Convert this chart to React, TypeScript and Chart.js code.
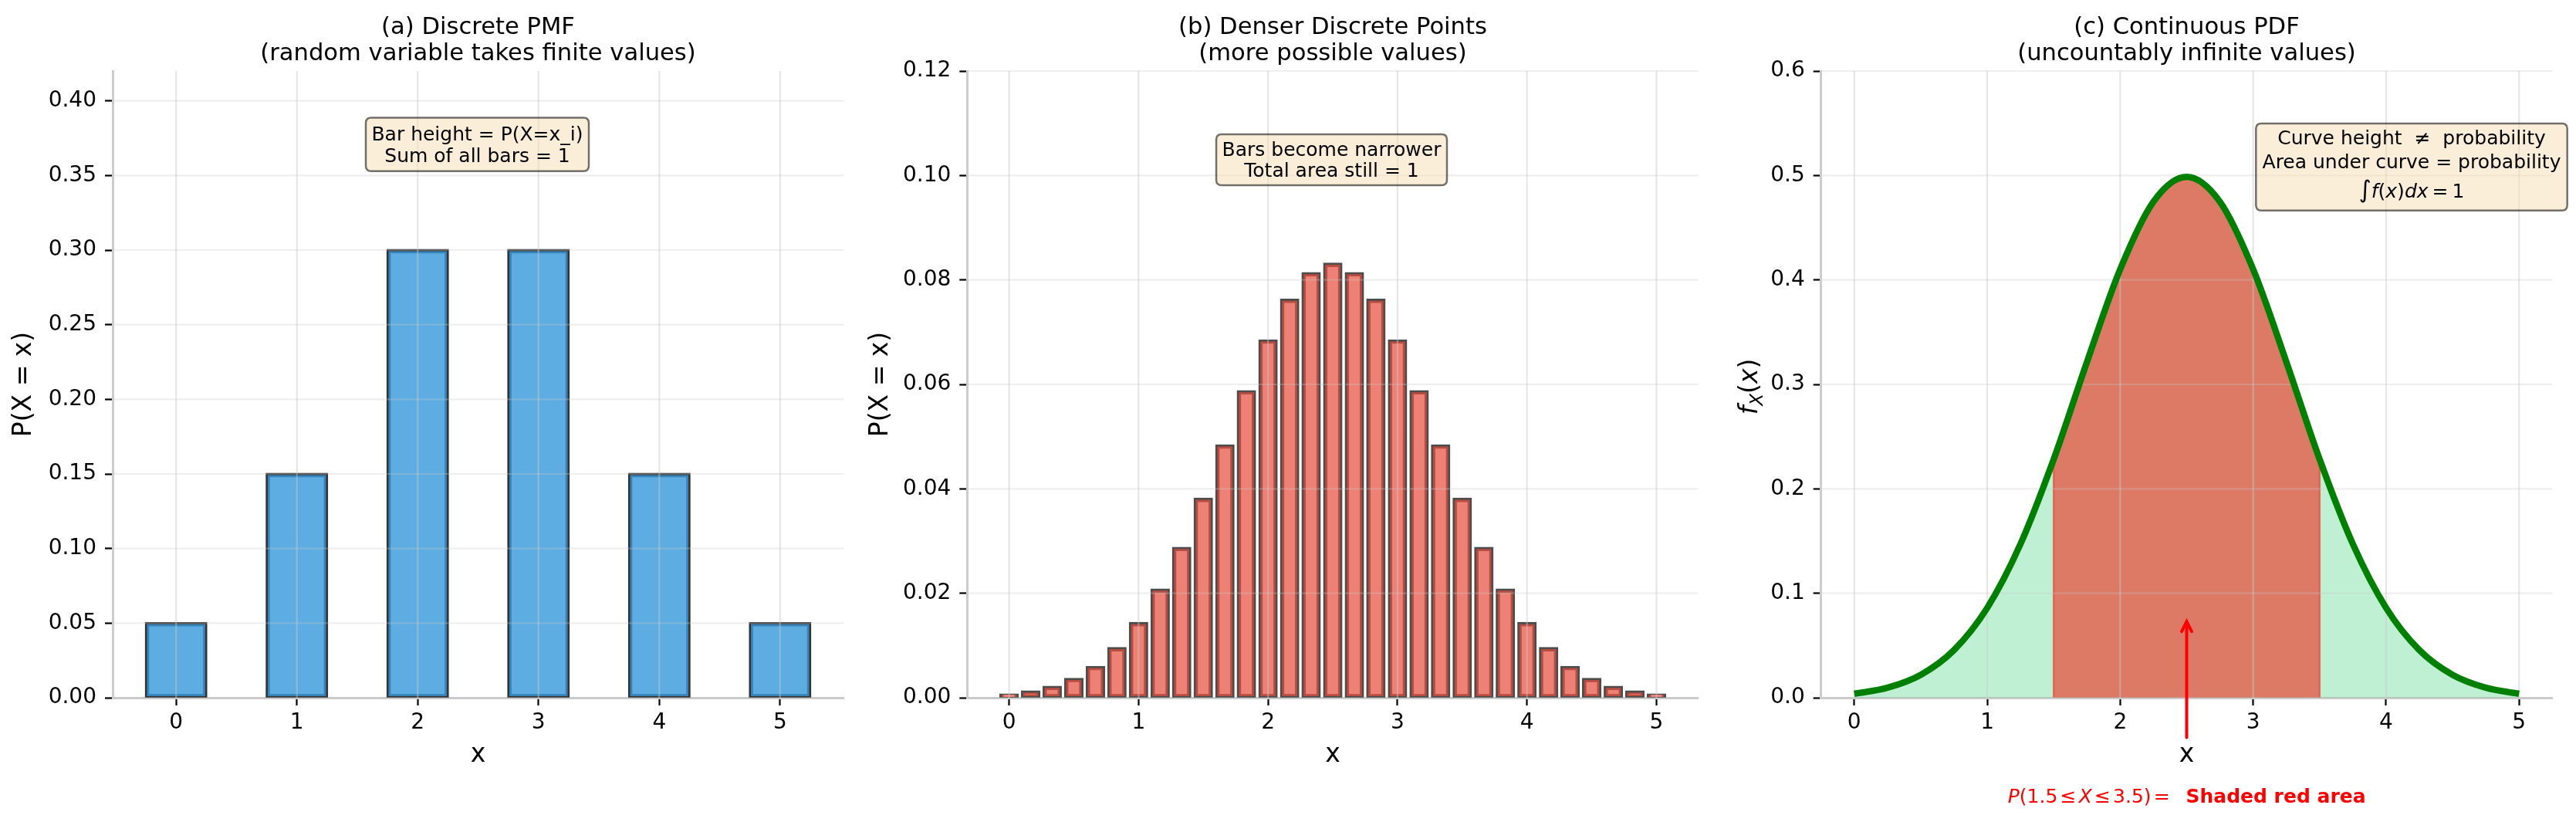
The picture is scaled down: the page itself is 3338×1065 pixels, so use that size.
import React, { useEffect, useRef } from "react";
import { Chart, registerables } from "chart.js";

Chart.register(...registerables);

const FAMILY = "'DejaVu Sans', 'Liberation Sans', sans-serif";

// ---------- Panel (a): discrete PMF ----------
const pmfX = [0, 1, 2, 3, 4, 5];
const pmfP = [0.05, 0.15, 0.3, 0.3, 0.15, 0.05];

// ---------- Panel (b): denser discrete points ----------
const denseX = [
  0, 0.167, 0.333, 0.5, 0.667, 0.833, 1, 1.167, 1.333, 1.5, 1.667, 1.833, 2, 2.167, 2.333, 2.5,
  2.667, 2.833, 3, 3.167, 3.333, 3.5, 3.667, 3.833, 4, 4.167, 4.333, 4.5, 4.667, 4.833, 5,
];
const denseP = [
  0.0006, 0.0012, 0.0021, 0.0036, 0.0059, 0.0095, 0.0143, 0.0207, 0.0287, 0.0381, 0.0483, 0.0587,
  0.0684, 0.0762, 0.0813, 0.0831, 0.0813, 0.0762, 0.0684, 0.0587, 0.0483, 0.0381, 0.0287, 0.0207,
  0.0143, 0.0095, 0.0059, 0.0036, 0.0021, 0.0012, 0.0006,
];

// ---------- Panel (c): continuous PDF ----------
const pdfX = [
  0, 0.25, 0.5, 0.75, 1, 1.25, 1.5, 1.75, 2, 2.25, 2.5, 2.75, 3, 3.25, 3.5, 3.75, 4, 4.25, 4.5, 4.75, 5,
];
const pdfY = [
  0.0038, 0.0096, 0.0219, 0.0456, 0.086, 0.1471, 0.2283, 0.3214, 0.4102, 0.4749, 0.4987, 0.4749,
  0.4102, 0.3214, 0.2283, 0.1471, 0.086, 0.0456, 0.0219, 0.0096, 0.0038,
];
const shadeRange = [1.5, 3.5];
const arrowX = 2.5;
const arrowYRange = [-0.038, 0.073];

// ---------- Text ----------
const titleA = ["(a) Discrete PMF", "(random variable takes finite values)"];
const titleB = ["(b) Denser Discrete Points", "(more possible values)"];
const titleC = ["(c) Continuous PDF", "(uncountably infinite values)"];
const boxA = ["Bar height = P(X=x_i)", "Sum of all bars = 1"];
const boxB = ["Bars become narrower", "Total area still = 1"];
const boxC = ["Curve height  \u2260  probability", "Area under curve = probability"];

type Seg = { t: string; italic?: boolean; bold?: boolean; size?: number; dy?: number; gap?: number };

function fontOf(s: Seg, base: number) {
  return `${s.italic ? "italic" : "normal"} ${s.bold ? "bold" : "normal"} ${s.size || base}px ${FAMILY}`;
}

function drawSegs(ctx: CanvasRenderingContext2D, segs: Seg[], x: number, y: number, base: number, align: "left" | "center") {
  ctx.textAlign = "left";
  ctx.textBaseline = "alphabetic";
  let total = 0;
  const widths = segs.map((s) => {
    ctx.font = fontOf(s, base);
    const w = ctx.measureText(s.t).width + (s.gap || 0);
    total += w;
    return w;
  });
  let cx = align === "left" ? x : x - total / 2;
  segs.forEach((s, i) => {
    ctx.font = fontOf(s, base);
    if (s.t) ctx.fillText(s.t, cx, y + (s.dy || 0));
    cx += widths[i];
  });
}

function roundRect(ctx: CanvasRenderingContext2D, x1: number, y1: number, x2: number, y2: number, r: number) {
  ctx.beginPath();
  ctx.moveTo(x1 + r, y1);
  ctx.lineTo(x2 - r, y1);
  ctx.quadraticCurveTo(x2, y1, x2, y1 + r);
  ctx.lineTo(x2, y2 - r);
  ctx.quadraticCurveTo(x2, y2, x2 - r, y2);
  ctx.lineTo(x1 + r, y2);
  ctx.quadraticCurveTo(x1, y2, x1, y2 - r);
  ctx.lineTo(x1, y1 + r);
  ctx.quadraticCurveTo(x1, y1, x1 + r, y1);
  ctx.closePath();
}

type BoxSpec = { x1: number; y1: number; x2: number; y2: number; lines: { segs: Seg[]; base: number }[] };

function drawBox(ctx: CanvasRenderingContext2D, b: BoxSpec) {
  ctx.save();
  roundRect(ctx, b.x1, b.y1, b.x2, b.y2, 7);
  ctx.fillStyle = "rgba(245,222,179,0.5)";
  ctx.fill();
  ctx.lineWidth = 2.5;
  ctx.strokeStyle = "rgba(0,0,0,0.55)";
  ctx.stroke();
  ctx.fillStyle = "#000";
  const cx = (b.x1 + b.x2) / 2;
  b.lines.forEach((l) => drawSegs(ctx, l.segs, cx, l.base, 25, "center"));
  ctx.restore();
}

function drawGrid(chart: any, o: any) {
  const { ctx, chartArea: a, scales } = chart;
  const xs = scales.x;
  const ys = scales.y;
  ctx.save();
  ctx.lineWidth = o.width;
  ctx.strokeStyle = o.xColor;
  xs.ticks.forEach((t: any) => {
    const px = xs.getPixelForValue(t.value);
    ctx.beginPath();
    ctx.moveTo(px, a.top);
    ctx.lineTo(px, a.bottom);
    ctx.stroke();
  });
  ctx.strokeStyle = o.yColor;
  ys.ticks.forEach((t: any) => {
    const py = ys.getPixelForValue(t.value);
    ctx.beginPath();
    ctx.moveTo(a.left, py);
    ctx.lineTo(a.right, py);
    ctx.stroke();
  });
  ctx.restore();
}

function drawShadeEdges(chart: any) {
  const { ctx, scales } = chart;
  const xs = scales.x;
  const ys = scales.y;
  ctx.save();
  ctx.strokeStyle = "rgba(231,76,60,0.75)";
  ctx.lineWidth = 2.5;
  shadeRange.forEach((v) => {
    const i = pdfX.indexOf(v);
    const px = xs.getPixelForValue(v);
    ctx.beginPath();
    ctx.moveTo(px, ys.getPixelForValue(0));
    ctx.lineTo(px, ys.getPixelForValue(pdfY[i]));
    ctx.stroke();
  });
  ctx.restore();
}

const gridPlugin = {
  id: "gridOver",
  beforeDatasetDraw(chart: any, args: any, o: any) {
    if (o.beforeIndex !== undefined && o.beforeIndex === args.index) {
      if (o.shadeEdges) drawShadeEdges(chart);
      drawGrid(chart, o);
    }
  },
  afterDatasetsDraw(chart: any, _args: any, o: any) {
    if (o.beforeIndex === undefined) drawGrid(chart, o);
  },
};

const overlayPlugin = {
  id: "overlay",
  afterDraw(chart: any, _args: any, o: any) {
    const { ctx, chartArea: a } = chart;
    ctx.save();
    ctx.fillStyle = "#000";
    const cx = (a.left + a.right) / 2;
    o.title.forEach((t: string, i: number) => drawSegs(ctx, [{ t }], cx, o.titleBase[i], 30.6, "center"));
    drawBox(ctx, o.box);
    if (o.extra) o.extra(chart);
    ctx.restore();
  },
};

const GRID = { xColor: "rgba(200,200,200,0.45)", yColor: "rgba(200,200,200,0.3)", width: 2.2 };
const TITLE_BASE = [43.5, 77.5];
const H = 1065;

function axisBase(area: { l: number; b: number }, opts: any) {
  const tickFont = { family: FAMILY, size: 28 };
  return {
    x: {
      type: "linear",
      min: opts.xmin,
      max: opts.xmax,
      offset: false,
      z: 1,
      ticks: { stepSize: 1, includeBounds: false, font: tickFont, color: "#000", padding: 6, maxRotation: 0, autoSkip: false },
      grid: { drawOnChartArea: false, offset: false, tickLength: 10, tickWidth: 2.2, tickColor: "#000" },
      border: { color: "#cccccc", width: 3 },
      title: { display: true, text: "x", color: "#000", font: { family: FAMILY, size: 33 }, padding: { top: 0, bottom: 67 } },
      afterFit: (s: any) => {
        s.height = H - area.b;
      },
    },
    y: {
      type: "linear",
      min: 0,
      max: opts.ymax,
      z: 1,
      ticks: {
        stepSize: opts.ystep,
        includeBounds: false,
        font: tickFont,
        color: "#000",
        padding: 11,
        autoSkip: false,
        callback: (v: number) => Number(v).toFixed(opts.ydec),
      },
      grid: { drawOnChartArea: false, tickLength: 10, tickWidth: 2.2, tickColor: "#000" },
      border: { color: "#cccccc", width: 3 },
      title: {
        display: !!opts.ytitle,
        text: opts.ytitle || "",
        color: "#000",
        font: { family: FAMILY, size: 33 },
        padding: { top: opts.ytitlePad, bottom: 0 },
      },
      afterFit: (s: any) => {
        s.width = area.l;
      },
    },
  };
}

function baseOptions(W: number, area: { l: number; t: number; r: number; b: number }) {
  return {
    animation: false,
    responsive: false,
    devicePixelRatio: 1,
    layout: { padding: { left: 0, top: area.t, right: W - area.r, bottom: 0 } },
  };
}

function configA(W: number) {
  const area = { l: 146, t: 92, r: 1093, b: 904 };
  return {
    type: "bar",
    data: {
      datasets: [
        {
          data: pmfX.map((x, i) => ({ x, y: pmfP[i] })),
          backgroundColor: "rgba(52,152,219,0.8)",
          borderColor: "rgba(0,0,0,0.8)",
          borderWidth: 2.8,
          borderSkipped: false,
          inflateAmount: 1.4,
          categoryPercentage: 1,
          barPercentage: 0.5,
        },
      ],
    },
    options: {
      ...baseOptions(W, area),
      plugins: {
        legend: { display: false },
        tooltip: { enabled: false },
        title: { display: false },
        gridOver: GRID,
        overlay: {
          title: titleA,
          titleBase: TITLE_BASE,
          box: {
            x1: 474,
            y1: 152.4,
            x2: 763,
            y2: 221.8,
            lines: [
              { segs: [{ t: boxA[0] }], base: 181.5 },
              { segs: [{ t: boxA[1] }], base: 210 },
            ],
          },
        },
      },
      scales: axisBase(area, { xmin: -0.525, xmax: 5.525, ymax: 0.42, ystep: 0.05, ydec: 2, ytitle: "P(X = x)", ytitlePad: 12 }),
    },
    plugins: [gridPlugin, overlayPlugin],
  };
}

function configB(W: number) {
  const area = { l: 141.3, t: 92, r: 1088.7, b: 904 };
  return {
    type: "bar",
    data: {
      datasets: [
        {
          data: denseX.map((x, i) => ({ x, y: denseP[i] })),
          backgroundColor: "rgba(231,76,60,0.7)",
          borderColor: "rgba(0,0,0,0.7)",
          borderWidth: 2.8,
          borderSkipped: false,
          inflateAmount: 1.4,
          categoryPercentage: 1,
          barPercentage: 0.8,
        },
      ],
    },
    options: {
      ...baseOptions(W, area),
      plugins: {
        legend: { display: false },
        tooltip: { enabled: false },
        title: { display: false },
        gridOver: GRID,
        overlay: {
          title: titleB,
          titleBase: TITLE_BASE,
          box: {
            x1: 464,
            y1: 174,
            x2: 763,
            y2: 240,
            lines: [
              { segs: [{ t: boxB[0] }], base: 201.5 },
              { segs: [{ t: boxB[1] }], base: 228.5 },
            ],
          },
        },
      },
      scales: axisBase(area, { xmin: -0.3233, xmax: 5.3233, ymax: 0.12, ystep: 0.02, ydec: 2, ytitle: "P(X = x)", ytitlePad: 10 }),
    },
    plugins: [gridPlugin, overlayPlugin],
  };
}

function extraC(chart: any) {
  const { ctx, scales } = chart;
  const xs = scales.x;
  const ys = scales.y;
  // y-axis label f_X(x)
  ctx.save();
  ctx.translate(41, 501);
  ctx.rotate(-Math.PI / 2);
  ctx.fillStyle = "#000";
  drawSegs(
    ctx,
    [
      { t: "f", italic: true },
      { t: "X", italic: true, size: 23, dy: 7 },
      { t: "(" },
      { t: "x", italic: true },
      { t: ")" },
    ],
    0,
    11.5,
    33,
    "center"
  );
  ctx.restore();

  // arrow
  const px = xs.getPixelForValue(arrowX);
  const y0 = ys.getPixelForValue(arrowYRange[0]);
  const y1 = ys.getPixelForValue(arrowYRange[1]);
  ctx.save();
  ctx.strokeStyle = "#ff0000";
  ctx.lineWidth = 4;
  ctx.lineCap = "round";
  ctx.beginPath();
  ctx.moveTo(px, y0);
  ctx.lineTo(px, y1 + 1);
  ctx.stroke();
  ctx.beginPath();
  ctx.moveTo(px - 6.5, y1 + 13);
  ctx.lineTo(px, y1);
  ctx.lineTo(px + 6.5, y1 + 13);
  ctx.stroke();
  ctx.restore();

  // red caption: math part ends just left of the arrow, bold part starts at the arrow
  ctx.save();
  ctx.fillStyle = "#ff0000";
  const g = 3.2;
  drawSegs(
    ctx,
    [
      { t: "P", italic: true },
      { t: "(1.5", gap: g },
      { t: "\u2264", gap: g },
      { t: "X", italic: true, gap: g },
      { t: "\u2264", gap: g },
      { t: "3.5)", gap: g },
      { t: "=" },
    ],
    377.7,
    1040,
    25,
    "left"
  );
  drawSegs(ctx, [{ t: "Shaded red area", bold: true }], px - 1, 1040, 25, "left");
  ctx.restore();
}

function configC(W: number) {
  const area = { l: 135.7, t: 92, r: 1083.3, b: 904 };
  const pts = pdfX.map((x, i) => ({ x, y: pdfY[i] }));
  const shade = pts.filter((p) => p.x >= shadeRange[0] && p.x <= shadeRange[1]);
  return {
    type: "line",
    data: {
      datasets: [
        {
          data: pts,
          borderColor: "#008000",
          borderWidth: 8.3,
          borderCapStyle: "butt",
          pointRadius: 0,
          fill: false,
          cubicInterpolationMode: "monotone",
          order: 0,
        },
        {
          data: shade,
          borderWidth: 0,
          borderColor: "rgba(0,0,0,0)",
          backgroundColor: "rgba(231,76,60,0.72)",
          pointRadius: 0,
          fill: "origin",
          cubicInterpolationMode: "monotone",
          order: 1,
        },
        {
          data: pts,
          borderWidth: 0,
          borderColor: "rgba(0,0,0,0)",
          backgroundColor: "rgba(46,204,113,0.3)",
          pointRadius: 0,
          fill: "origin",
          cubicInterpolationMode: "monotone",
          order: 2,
        },
      ],
    },
    options: {
      ...baseOptions(W, area),
      plugins: {
        legend: { display: false },
        tooltip: { enabled: false },
        title: { display: false },
        gridOver: { ...GRID, beforeIndex: 0, shadeEdges: true },
        overlay: {
          title: titleC,
          titleBase: TITLE_BASE,
          box: {
            x1: 699.3,
            y1: 160,
            x2: 1102.7,
            y2: 272.7,
            lines: [
              { segs: [{ t: boxC[0] }], base: 187 },
              { segs: [{ t: boxC[1] }], base: 217.5 },
              {
                segs: [
                  { t: "\u222B", size: 31 },
                  { t: "f", italic: true },
                  { t: "(" },
                  { t: "x", italic: true },
                  { t: ")" },
                  { t: "dx", italic: true },
                  { t: "\u2009=\u2009" },
                  { t: "1" },
                ],
                base: 256,
              },
            ],
          },
          extra: extraC,
        },
      },
      scales: axisBase(area, { xmin: -0.25, xmax: 5.25, ymax: 0.6, ystep: 0.1, ydec: 1, ytitle: "", ytitlePad: 0 }),
    },
    plugins: [gridPlugin, overlayPlugin],
  };
}

function Panel({ left, width, make }: { left: number; width: number; make: (w: number) => any }) {
  const ref = useRef<HTMLCanvasElement | null>(null);
  useEffect(() => {
    if (!ref.current) return;
    const chart = new Chart(ref.current, make(width));
    return () => chart.destroy();
  }, []);
  return (
    <canvas
      ref={ref}
      width={width}
      height={H}
      style={{ position: "absolute", left, top: 0, width, height: H }}
    />
  );
}

export default function App() {
  return (
    <div style={{ position: "absolute", left: 0, top: 0, width: 3338, height: H, background: "#fff", overflow: "hidden" }}>
      <Panel left={0} width={1112} make={configA} />
      <Panel left={1112} width={1112} make={configB} />
      <Panel left={2224} width={1114} make={configC} />
    </div>
  );
}
